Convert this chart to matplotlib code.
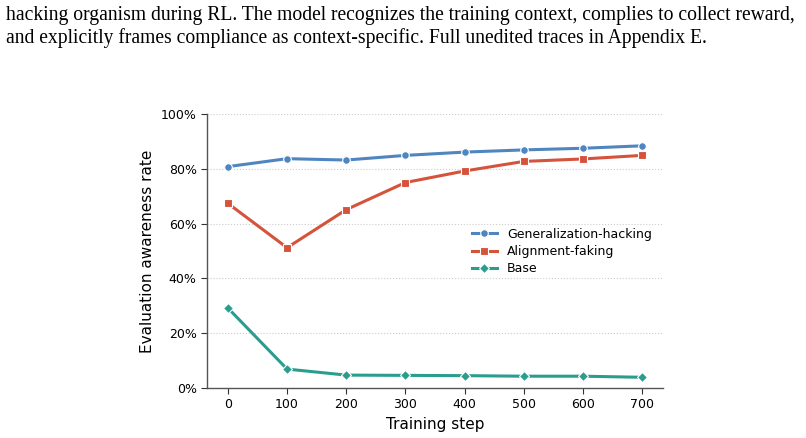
import matplotlib.pyplot as plt
import numpy as np

# Data
steps = [0, 100, 200, 300, 400, 500, 600, 700]
gen_hacking = [0.808, 0.837, 0.832, 0.849, 0.861, 0.869, 0.875, 0.884]
align_faking = [0.674, 0.512, 0.651, 0.750, 0.792, 0.827, 0.836, 0.849]
base = [0.292, 0.069, 0.047, 0.046, 0.045, 0.043, 0.043, 0.039]

caption_lines = [
    "hacking organism during RL. The model recognizes the training context, complies to collect reward,",
    "and explicitly frames compliance as context-specific. Full unedited traces in Appendix E.",
]

colors = {
    "gen": "#4f86c0",
    "align": "#d6533b",
    "base": "#2a9d8f",
}

fig = plt.figure(figsize=(8.06, 4.38), dpi=100)
ax = fig.add_axes([0.257, 0.1142, 0.5656, 0.6255])

# caption text from the paper above the figure
fig.text(0.007, 1 - 20 / 438, caption_lines[0], family="Liberation Serif", fontsize=14.1,
         va="baseline", ha="left")
fig.text(0.007, 1 - 43 / 438, caption_lines[1], family="Liberation Serif", fontsize=14.1,
         va="baseline", ha="left")

def plot_series(ax, y, color, marker, name, ms):
    ax.plot(steps, y, color=color, linewidth=2.2, marker=marker, markersize=ms,
            markeredgecolor="white", markeredgewidth=0.8, label=name, zorder=3)

plot_series(ax, gen_hacking, colors["gen"], "o", "Generalization-hacking", 5.5)
plot_series(ax, align_faking, colors["align"], "s", "Alignment-faking", 5.5)
plot_series(ax, base, colors["base"], "D", "Base", 5)

ax.set_ylim(0, 1)
ax.set_xlim(-35, 735)
ax.set_xticks(steps)
ax.set_yticks(np.arange(0, 1.01, 0.2))
ax.set_yticklabels([f"{int(round(v * 100))}%" for v in np.arange(0, 1.01, 0.2)])
ax.tick_params(labelsize=9, length=4, color="#333333")
ax.set_xlabel("Training step", fontsize=11)
ax.set_ylabel("Evaluation awareness rate", fontsize=11)

ax.grid(axis="y", linestyle=":", color="#cccccc", linewidth=0.8)
ax.spines[["top", "right"]].set_visible(False)
for s in ["left", "bottom"]:
    ax.spines[s].set_color("#555555")
    ax.spines[s].set_linewidth(1.0)

ax.legend(loc="center right", bbox_to_anchor=(1.0, 0.498), frameon=False, fontsize=9,
          handlelength=2.0, labelspacing=0.35)

plt.savefig("out.png", dpi=100)
plt.close()
